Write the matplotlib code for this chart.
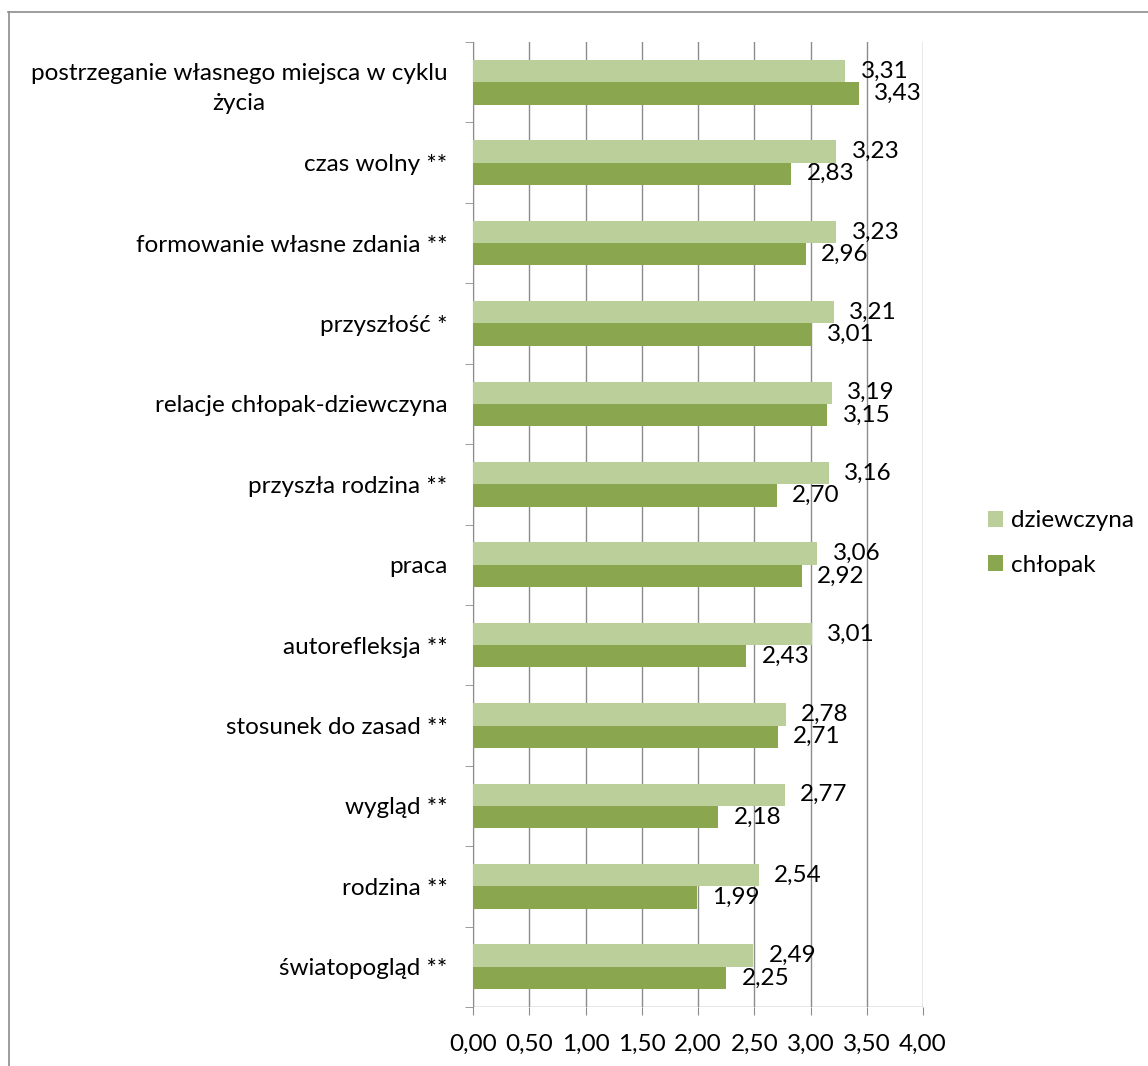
import matplotlib
matplotlib.use('Agg')
import matplotlib.pyplot as plt
import numpy as np
from matplotlib.lines import Line2D

plt.rcParams['font.family'] = ['Lato', 'DejaVu Sans']

# Categories listed from top to bottom
categories = [
    'postrzeganie własnego miejsca w cyklu\nżycia',
    'czas wolny **',
    'formowanie własne zdania **',
    'przyszłość *',
    'relacje chłopak-dziewczyna',
    'przyszła rodzina **',
    'praca',
    'autorefleksja **',
    'stosunek do zasad **',
    'wygląd **',
    'rodzina **',
    'światopogląd **',
]
girls = [3.31, 3.23, 3.23, 3.21, 3.19, 3.16, 3.06, 3.01, 2.78, 2.77, 2.54, 2.49]
boys = [3.43, 2.83, 2.96, 3.01, 3.15, 2.70, 2.92, 2.43, 2.71, 2.18, 1.99, 2.25]
series_names = ['dziewczyna', 'chłopak']
xticks = [0.0, 0.5, 1.0, 1.5, 2.0, 2.5, 3.0, 3.5, 4.0]

light = '#BBCF9A'
dark = '#8AA64F'
grey = '#8C8C8C'
fs = 17.5

W, H = 1148, 1066
fig = plt.figure(figsize=(W / 100, H / 100), dpi=100)
ax = fig.add_axes([473 / W, 1 - 1007 / H, 450 / W, 965 / H])

n = len(categories)
y = np.arange(n)
bh = 0.278
ax.barh(y - bh / 2, girls, height=bh, color=light, label=series_names[0], zorder=3)
ax.barh(y + bh / 2, boys, height=bh, color=dark, label=series_names[1], zorder=3)

for i in range(n):
    for v, off in ((girls[i], -bh / 2), (boys[i], bh / 2)):
        ax.annotate(f'{v:.2f}'.replace('.', ','), (v, i + off),
                    xytext=(11, 0), textcoords='offset points',
                    ha='left', va='center', fontsize=fs, zorder=4)

ax.set_ylim(n - 0.5, -0.5)
ax.set_xlim(0, 4)
ax.set_xticks(xticks)
ax.set_xticklabels([f'{t:.2f}'.replace('.', ',') for t in xticks], fontsize=fs)
ax.set_yticks(y)
ax.set_yticklabels(categories, fontsize=fs, ha='right', multialignment='center',
                   linespacing=1.5)
ax.tick_params(axis='y', length=0, pad=18.5)
ax.tick_params(axis='x', length=6, color=grey, pad=13)

# category separators as small tick marks left of the axis
ax.set_yticks(np.arange(n + 1) - 0.5, minor=True)
ax.tick_params(axis='y', which='minor', length=6, color=grey, direction='out')

ax.grid(axis='x', color=grey, linewidth=1, zorder=0)
for s in ('top', 'right', 'bottom'):
    ax.spines[s].set_visible(False)
ax.spines['left'].set_color(grey)
ax.axhline(n - 0.5, color=grey, linewidth=1, zorder=2)

leg = fig.legend(loc='center left', bbox_to_anchor=(988 / W, 1 - 543 / H),
                 frameon=False, fontsize=fs, handlelength=0.62, handleheight=0.62,
                 handletextpad=0.33, labelspacing=0.95, borderaxespad=0, borderpad=0)

# outer chart frame
fig.add_artist(Line2D([8.5 / W, 8.5 / W], [0, 1 - 12 / H], transform=fig.transFigure,
                      color=grey, linewidth=1.2))
fig.add_artist(Line2D([8 / W, 1], [1 - 12 / H, 1 - 12 / H], transform=fig.transFigure,
                      color=grey, linewidth=1.2))

fig.savefig('out.png', dpi=100)
